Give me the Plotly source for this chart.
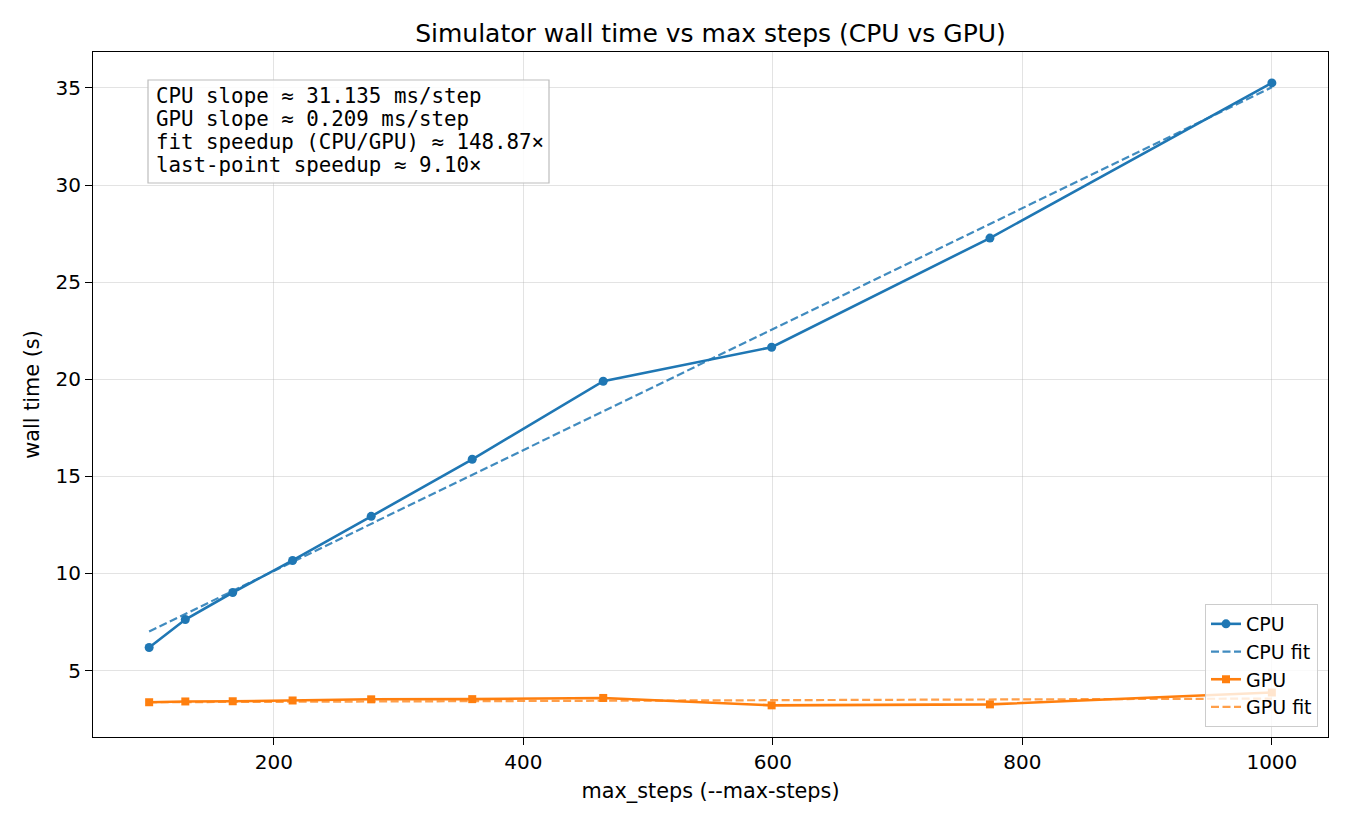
import plotly.graph_objects as go

# ---- data ----
max_steps = [100, 129, 167, 215, 278, 359, 464, 599, 774, 1000]
cpu_time = [6.19, 7.63, 9.02, 10.67, 12.94, 15.88, 19.90, 21.65, 27.27, 35.26]
gpu_time = [3.37, 3.41, 3.42, 3.46, 3.52, 3.53, 3.59, 3.21, 3.26, 3.87]

cpu_fit_slope = 0.031135   # s/step
cpu_fit_intercept = 3.90
gpu_fit_slope = 0.000209   # s/step
gpu_fit_intercept = 3.35

box_lines = [
    "CPU slope ≈ 31.135 ms/step",
    "GPU slope ≈ 0.209 ms/step",
    "fit speedup (CPU/GPU) ≈ 148.87×",
    "last-point speedup ≈ 9.10×",
]

title = "Simulator wall time vs max steps (CPU vs GPU)"
x_label = "max_steps (--max-steps)"
y_label = "wall time (s)"
x_ticks = [200, 400, 600, 800, 1000]
y_ticks = [5, 10, 15, 20, 25, 30, 35]

cpu_fit = [cpu_fit_intercept + cpu_fit_slope * x for x in max_steps]
gpu_fit = [gpu_fit_intercept + gpu_fit_slope * x for x in max_steps]

BLUE = "#1f77b4"
ORANGE = "#ff7f0e"
FONT = "DejaVu Sans"

fig = go.Figure()
fig.add_trace(go.Scatter(x=max_steps, y=cpu_time, name="CPU", mode="lines+markers",
                         line=dict(color=BLUE, width=2.6),
                         marker=dict(symbol="circle", size=9, color=BLUE)))
fig.add_trace(go.Scatter(x=max_steps, y=cpu_fit, name="CPU fit", mode="lines",
                         line=dict(color=BLUE, width=2.2, dash="8px,3.5px"), opacity=0.85))
fig.add_trace(go.Scatter(x=max_steps, y=gpu_time, name="GPU", mode="lines+markers",
                         line=dict(color=ORANGE, width=2.6),
                         marker=dict(symbol="square", size=8, color=ORANGE)))
fig.add_trace(go.Scatter(x=max_steps, y=gpu_fit, name="GPU fit", mode="lines",
                         line=dict(color=ORANGE, width=2.2, dash="8px,3.5px"), opacity=0.75))

L, R, T, B = 93, 22, 52, 88
W, H = 1350, 825
pw, ph = W - L - R, H - T - B

def px_to_paper_x(px):
    return (px - L) / pw

def px_to_paper_y(py):
    return 1 - (py - T) / ph

# text box
fig.add_shape(type="rect", xref="paper", yref="paper",
              x0=px_to_paper_x(148), x1=px_to_paper_x(549),
              y0=px_to_paper_y(183), y1=px_to_paper_y(80),
              line=dict(color="#bdbdbd", width=1.2), fillcolor="rgba(255,255,255,0.85)",
              layer="above")
for i, t in enumerate(box_lines):
    fig.add_annotation(text=t, xref="paper", yref="paper",
                       x=px_to_paper_x(154), y=px_to_paper_y(96 + 23 * i),
                       xanchor="left", yanchor="middle", showarrow=False,
                       font=dict(family="DejaVu Sans Mono", size=20.8, color="black"))

axis_common = dict(showline=True, linecolor="black", linewidth=1.2, mirror=True,
                   ticks="outside", ticklen=7, tickwidth=1.2, tickcolor="black",
                   showgrid=True, gridcolor="rgba(176,176,176,0.35)", gridwidth=1,
                   zeroline=False, tickfont=dict(family=FONT, size=20, color="black"))

fig.update_xaxes(range=[55, 1045], tickvals=x_ticks,
                 title=dict(text=x_label, font=dict(family=FONT, size=20.8, color="black"), standoff=10),
                 **axis_common)
fig.update_yaxes(range=[1.58, 36.85], tickvals=y_ticks,
                 title=dict(text=y_label, font=dict(family=FONT, size=20.8, color="black"), standoff=10),
                 **axis_common)

fig.update_layout(
    width=W, height=H,
    margin=dict(l=L, r=R, t=T, b=B),
    paper_bgcolor="white", plot_bgcolor="white",
    title=dict(text=title, xref="paper", x=0.5, xanchor="center", y=1 - 33 / H, yanchor="middle",
               font=dict(family=FONT, size=25, color="black")),
    font=dict(family=FONT, color="black"),
    legend=dict(x=px_to_paper_x(1318), y=px_to_paper_y(727), xanchor="right", yanchor="bottom",
                bgcolor="rgba(255,255,255,0.8)", bordercolor="#cccccc", borderwidth=1,
                font=dict(family=FONT, size=19, color="black"), tracegroupgap=0),
    showlegend=True,
)

fig.write_html("out.html")
